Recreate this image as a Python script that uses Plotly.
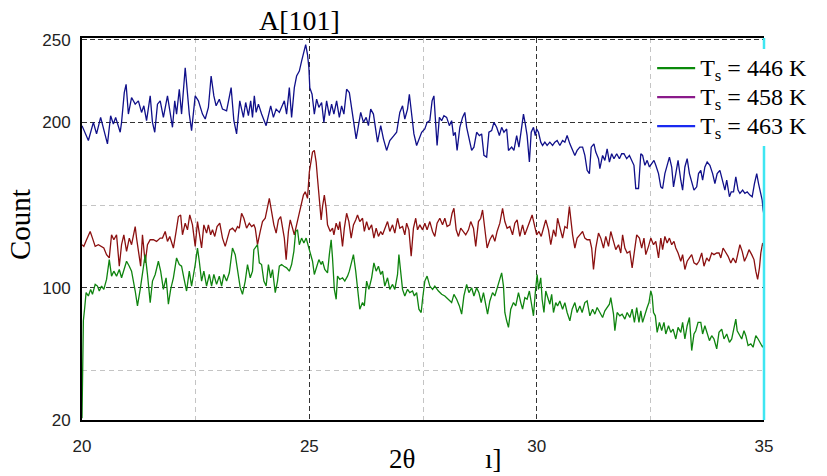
import plotly.graph_objects as go

# ---------------- data (2theta in degrees, counts) ----------------
x_463 = [
    20.00, 20.14, 20.25, 20.32, 20.41, 20.48, 20.56, 20.63, 20.69, 20.74,
    20.84, 20.87, 20.93, 20.97, 21.02, 21.09, 21.17, 21.24, 21.31, 21.36,
    21.42, 21.50, 21.55, 21.60, 21.66, 21.72, 21.79, 21.88, 21.93, 21.99,
    22.04, 22.08, 22.14, 22.19, 22.27, 22.30, 22.36, 22.41, 22.49, 22.56,
    22.65, 22.71, 22.78, 22.84, 22.90, 22.95, 23.02, 23.09, 23.18, 23.28,
    23.34, 23.40, 23.47, 23.55, 23.60, 23.66, 23.71, 23.75, 23.79, 23.83,
    23.88, 23.95, 24.05, 24.10, 24.15, 24.21, 24.27, 24.34, 24.39, 24.45,
    24.50, 24.56, 24.61, 24.67, 24.72, 24.78, 24.83, 24.88, 24.92, 24.96,
    24.99, 25.01, 25.06, 25.11, 25.16, 25.21, 25.27, 25.32, 25.38, 25.44,
    25.49, 25.54, 25.60, 25.66, 25.71, 25.76, 25.82, 25.88, 25.93, 25.98,
    26.03, 26.08, 26.13, 26.19, 26.25, 26.30, 26.35, 26.41, 26.47, 26.50,
    26.57, 26.63, 26.70, 26.77, 26.86, 26.92, 26.99, 27.05, 27.10, 27.16,
    27.20, 27.25, 27.30, 27.36, 27.42, 27.47, 27.54, 27.59, 27.65, 27.70,
    27.74, 27.78, 27.81, 27.86, 27.91, 27.96, 28.02, 28.08, 28.13, 28.17,
    28.21, 28.25, 28.31, 28.37, 28.42, 28.46, 28.52, 28.57, 28.62, 28.68,
    28.74, 28.79, 28.84, 28.90, 28.95, 29.01, 29.06, 29.12, 29.18, 29.23,
    29.28, 29.34, 29.38, 29.45, 29.50, 29.56, 29.61, 29.66, 29.71, 29.75,
    29.79, 29.84, 29.88, 29.93, 29.97, 30.00, 30.04, 30.09, 30.13, 30.18,
    30.23, 30.29, 30.35, 30.40, 30.45, 30.51, 30.57, 30.62, 30.67, 30.73,
    30.79, 30.84, 30.89, 30.95, 31.01, 31.06, 31.11, 31.16, 31.20, 31.26,
    31.30, 31.36, 31.39, 31.45, 31.50, 31.55, 31.60, 31.65, 31.70, 31.76,
    31.82, 31.87, 31.92, 31.98, 32.04, 32.09, 32.14, 32.18, 32.24, 32.29,
    32.33, 32.38, 32.43, 32.48, 32.53, 32.58, 32.62, 32.68, 32.73, 32.77,
    32.82, 32.87, 32.92, 32.97, 33.01, 33.06, 33.11, 33.17, 33.21, 33.26,
    33.31, 33.36, 33.41, 33.46, 33.52, 33.56, 33.61, 33.65, 33.70, 33.75,
    33.81, 33.87, 33.92, 33.97, 34.03, 34.09, 34.14, 34.18, 34.24, 34.28,
    34.33, 34.38, 34.43, 34.47, 34.53, 34.58, 34.63, 34.69, 34.74, 34.79,
    34.84, 34.88, 34.93, 34.96, 34.98, 35.00,
]
y_463 = [
    198, 189, 200, 193, 203, 196, 187, 204, 199, 203,
    194, 200, 218, 223, 205, 215, 211, 213, 206, 210,
    201, 216, 200, 194, 211, 213, 203, 216, 207, 197,
    213, 205, 220, 205, 233, 223, 205, 195, 216, 213,
    205, 202, 209, 228, 216, 210, 214, 208, 207, 221,
    201, 193, 213, 203, 212, 204, 213, 203, 216, 206,
    211, 205, 198, 204, 210, 203, 208, 206, 209, 213,
    205, 221, 203, 221, 228, 231, 237, 243, 247, 241,
    233, 221, 217, 205, 214, 209, 212, 200, 213, 204,
    211, 205, 213, 203, 210, 205, 220, 218, 209, 198,
    190, 198, 206, 200, 203, 198, 208, 205, 195, 188,
    198, 190, 183, 189, 192, 194, 206, 210, 202, 208,
    217, 205, 193, 186, 191, 194, 196, 200, 201, 213,
    216, 200, 186, 203, 201, 204, 203, 198, 201, 192,
    194, 183, 197, 203, 206, 197, 188, 183, 185, 194,
    192, 193, 180, 179, 194, 195, 200, 197, 192, 197,
    194, 196, 183, 185, 183, 192, 185, 195, 205, 199,
    192, 176, 194, 197, 192, 196, 194, 188, 186, 188,
    186, 188, 186, 188, 189, 186, 189, 188, 192, 187,
    183, 180, 183, 185, 185, 180, 171, 169, 185, 187,
    182, 178, 172, 180, 177, 184, 176, 181, 178, 181,
    178, 181, 181, 178, 180, 177, 174, 160, 160, 181,
    180, 174, 177, 173, 175, 177, 174, 169, 161, 160,
    169, 175, 179, 173, 161, 169, 177, 165, 159, 173,
    178, 169, 163, 159, 161, 169, 171, 165, 173, 176,
    174, 169, 163, 169, 171, 165, 159, 165, 155, 158,
    158, 167, 159, 157, 159, 157, 158, 156, 155, 163,
    169, 163, 157, 153, 147, 144,
]

x_458 = [
    20.00, 20.04, 20.10, 20.18, 20.23, 20.29, 20.36, 20.43, 20.48, 20.54,
    20.60, 20.65, 20.70, 20.76, 20.82, 20.87, 20.92, 20.98, 21.04, 21.09,
    21.17, 21.20, 21.24, 21.29, 21.33, 21.39, 21.44, 21.50, 21.57, 21.64,
    21.72, 21.77, 21.83, 21.88, 21.93, 22.01, 22.07, 22.12, 22.17, 22.21,
    22.27, 22.32, 22.37, 22.43, 22.49, 22.54, 22.58, 22.63, 22.68, 22.74,
    22.78, 22.83, 22.87, 22.92, 22.97, 23.03, 23.09, 23.15, 23.20, 23.25,
    23.31, 23.37, 23.42, 23.46, 23.51, 23.56, 23.62, 23.68, 23.73, 23.78,
    23.81, 23.86, 23.92, 23.97, 24.03, 24.08, 24.12, 24.17, 24.22, 24.27,
    24.32, 24.37, 24.41, 24.45, 24.49, 24.54, 24.58, 24.63, 24.67, 24.72,
    24.77, 24.82, 24.87, 24.91, 24.96, 25.00, 25.04, 25.07, 25.11, 25.15,
    25.18, 25.22, 25.26, 25.29, 25.33, 25.37, 25.40, 25.46, 25.51, 25.54,
    25.59, 25.64, 25.67, 25.73, 25.77, 25.82, 25.87, 25.92, 25.97, 26.02,
    26.06, 26.11, 26.17, 26.21, 26.26, 26.31, 26.37, 26.42, 26.47, 26.52,
    26.57, 26.61, 26.66, 26.72, 26.77, 26.83, 26.88, 26.94, 26.99, 27.05,
    27.10, 27.14, 27.19, 27.24, 27.29, 27.34, 27.38, 27.43, 27.49, 27.54,
    27.59, 27.65, 27.71, 27.76, 27.81, 27.87, 27.93, 27.98, 28.03, 28.09,
    28.14, 28.18, 28.23, 28.28, 28.33, 28.39, 28.44, 28.50, 28.55, 28.61,
    28.66, 28.72, 28.77, 28.81, 28.86, 28.91, 28.97, 29.03, 29.08, 29.13,
    29.19, 29.25, 29.30, 29.35, 29.41, 29.47, 29.52, 29.57, 29.63, 29.69,
    29.74, 29.79, 29.85, 29.90, 29.95, 30.00, 30.05, 30.10, 30.16, 30.20,
    30.26, 30.31, 30.37, 30.42, 30.46, 30.51, 30.57, 30.62, 30.67, 30.72,
    30.75, 30.79, 30.84, 30.89, 30.95, 31.01, 31.06, 31.11, 31.17, 31.21,
    31.25, 31.30, 31.36, 31.41, 31.47, 31.52, 31.58, 31.63, 31.69, 31.74,
    31.80, 31.85, 31.89, 31.94, 31.99, 32.05, 32.10, 32.14, 32.20, 32.26,
    32.31, 32.36, 32.40, 32.46, 32.51, 32.57, 32.62, 32.68, 32.73, 32.77,
    32.82, 32.87, 32.92, 32.97, 33.02, 33.06, 33.11, 33.17, 33.21, 33.26,
    33.31, 33.36, 33.41, 33.46, 33.52, 33.57, 33.63, 33.68, 33.74, 33.79,
    33.85, 33.90, 33.96, 34.01, 34.05, 34.10, 34.16, 34.21, 34.27, 34.32,
    34.38, 34.42, 34.47, 34.52, 34.57, 34.62, 34.67, 34.73, 34.78, 34.82,
    34.86, 34.90, 34.93, 34.97, 35.00,
]
y_458 = [
    126, 125, 129, 134, 130, 125, 126, 125, 124, 120,
    118, 132, 129, 132, 113, 126, 132, 122, 130, 126,
    137, 130, 122, 113, 132, 115, 126, 129, 129, 128,
    130, 130, 134, 128, 131, 124, 134, 143, 144, 132,
    139, 135, 144, 138, 125, 140, 133, 124, 138, 133,
    138, 132, 135, 131, 137, 139, 130, 125, 130, 135,
    136, 134, 137, 136, 145, 142, 136, 139, 137, 138,
    136, 126, 134, 140, 142, 148, 154, 146, 138, 133,
    141, 143, 135, 130, 117, 134, 141, 136, 132, 138,
    144, 150, 156, 158, 154, 170, 178, 182, 183, 176,
    166, 155, 141, 149, 156, 148, 138, 134, 136, 132,
    139, 135, 140, 125, 136, 145, 140, 130, 138, 141,
    144, 140, 142, 134, 140, 135, 138, 130, 136, 131,
    134, 132, 136, 140, 134, 138, 133, 142, 136, 137,
    132, 139, 135, 119, 136, 142, 135, 138, 135, 139,
    135, 140, 134, 131, 139, 142, 138, 142, 137, 138,
    145, 148, 135, 131, 136, 134, 132, 135, 140, 136,
    125, 140, 142, 147, 137, 124, 129, 132, 128, 134,
    139, 148, 140, 136, 137, 132, 139, 141, 131, 138,
    132, 136, 140, 144, 138, 132, 134, 131, 137, 141,
    135, 126, 135, 131, 142, 136, 130, 137, 136, 149,
    140, 132, 124, 130, 132, 134, 130, 129, 129, 124,
    111, 124, 133, 130, 124, 131, 125, 134, 128, 123,
    126, 121, 132, 124, 121, 122, 112, 119, 132, 130,
    124, 130, 120, 125, 130, 126, 128, 118, 130, 123,
    131, 127, 130, 126, 128, 124, 121, 116, 120, 111,
    116, 118, 120, 115, 114, 116, 121, 113, 118, 116,
    121, 120, 121, 121, 118, 124, 121, 119, 115, 118,
    115, 120, 126, 122, 116, 119, 123, 120, 117, 110,
    105, 112, 121, 127, 125,
]

x_446 = [
    20.00, 20.01, 20.03, 20.06, 20.09, 20.14, 20.19, 20.23, 20.29, 20.34,
    20.38, 20.43, 20.48, 20.54, 20.60, 20.65, 20.70, 20.76, 20.82, 20.87,
    20.92, 20.98, 21.04, 21.09, 21.17, 21.22, 21.28, 21.33, 21.39, 21.44,
    21.50, 21.55, 21.61, 21.68, 21.73, 21.79, 21.85, 21.90, 21.95, 22.01,
    22.08, 22.14, 22.19, 22.24, 22.30, 22.36, 22.41, 22.49, 22.54, 22.58,
    22.63, 22.68, 22.74, 22.80, 22.85, 22.90, 22.96, 23.02, 23.07, 23.12,
    23.18, 23.24, 23.31, 23.37, 23.42, 23.48, 23.53, 23.59, 23.64, 23.70,
    23.75, 23.78, 23.86, 23.90, 23.95, 24.00, 24.05, 24.10, 24.15, 24.19,
    24.25, 24.30, 24.34, 24.39, 24.44, 24.50, 24.56, 24.61, 24.66, 24.70,
    24.74, 24.78, 24.83, 24.88, 24.93, 24.97, 25.02, 25.07, 25.11, 25.16,
    25.21, 25.26, 25.29, 25.34, 25.40, 25.44, 25.48, 25.51, 25.55, 25.59,
    25.62, 25.67, 25.73, 25.78, 25.84, 25.88, 25.93, 25.97, 26.02, 26.06,
    26.11, 26.17, 26.21, 26.26, 26.31, 26.37, 26.42, 26.47, 26.52, 26.57,
    26.61, 26.66, 26.72, 26.77, 26.83, 26.88, 26.94, 26.97, 27.01, 27.05,
    27.10, 27.16, 27.21, 27.27, 27.31, 27.36, 27.41, 27.46, 27.49, 27.54,
    27.59, 27.65, 27.71, 27.76, 27.84, 27.91, 27.98, 28.06, 28.13, 28.18,
    28.24, 28.30, 28.35, 28.40, 28.46, 28.51, 28.57, 28.62, 28.68, 28.73,
    28.78, 28.83, 28.88, 28.92, 28.97, 29.03, 29.08, 29.13, 29.18, 29.23,
    29.27, 29.30, 29.34, 29.38, 29.43, 29.49, 29.54, 29.60, 29.65, 29.69,
    29.74, 29.79, 29.84, 29.89, 29.93, 29.97, 30.01, 30.04, 30.09, 30.12,
    30.16, 30.20, 30.26, 30.29, 30.33, 30.37, 30.42, 30.46, 30.51, 30.57,
    30.62, 30.67, 30.73, 30.78, 30.84, 30.89, 30.95, 31.00, 31.06, 31.11,
    31.17, 31.23, 31.28, 31.33, 31.39, 31.45, 31.50, 31.55, 31.60, 31.63,
    31.69, 31.72, 31.77, 31.83, 31.88, 31.94, 31.99, 32.05, 32.10, 32.15,
    32.20, 32.25, 32.29, 32.33, 32.38, 32.43, 32.47, 32.51, 32.54, 32.57,
    32.61, 32.65, 32.70, 32.75, 32.80, 32.84, 32.90, 32.95, 33.00, 33.06,
    33.11, 33.17, 33.21, 33.26, 33.31, 33.36, 33.41, 33.46, 33.50, 33.55,
    33.61, 33.65, 33.70, 33.75, 33.80, 33.85, 33.90, 33.96, 34.01, 34.07,
    34.12, 34.18, 34.24, 34.29, 34.34, 34.38, 34.41, 34.46, 34.51, 34.56,
    34.60, 34.65, 34.71, 34.76, 34.82, 34.87, 34.93, 34.97, 35.00,
]
y_446 = [
    21, 50, 80, 88, 97, 95, 99, 96, 102, 101,
    98, 101, 99, 105, 117, 107, 110, 107, 111, 106,
    110, 116, 113, 110, 98, 89, 99, 110, 120, 108,
    91, 104, 108, 116, 110, 99, 106, 90, 99, 106,
    118, 114, 113, 106, 98, 110, 101, 114, 124, 116,
    104, 110, 101, 108, 101, 108, 102, 107, 101, 108,
    104, 109, 124, 120, 110, 100, 96, 104, 114, 106,
    110, 123, 126, 115, 114, 104, 101, 114, 106, 111,
    97, 104, 113, 114, 113, 112, 110, 114, 122, 134,
    135, 126, 130, 127, 130, 126, 121, 116, 108, 113,
    117, 114, 116, 111, 109, 120, 129, 118, 99, 93,
    107, 105, 106, 104, 107, 110, 116, 120, 110, 98,
    87, 91, 89, 104, 99, 106, 115, 110, 113, 108,
    110, 101, 106, 99, 102, 99, 108, 120, 108, 99,
    95, 99, 97, 98, 95, 97, 87, 85, 93, 104,
    107, 101, 99, 101, 98, 96, 95, 93, 91, 96,
    93, 89, 84, 95, 102, 97, 100, 95, 100, 97,
    91, 97, 89, 84, 92, 97, 95, 100, 105, 109,
    101, 85, 80, 76, 87, 91, 89, 97, 91, 87,
    94, 93, 98, 89, 83, 97, 108, 99, 106, 93,
    85, 98, 93, 90, 96, 85, 91, 89, 92, 87,
    91, 85, 80, 87, 91, 85, 89, 85, 91, 92,
    83, 87, 84, 88, 85, 82, 86, 88, 90, 94,
    84, 74, 85, 83, 84, 81, 85, 82, 87, 79,
    88, 79, 86, 79, 84, 88, 91, 98, 95, 85,
    83, 73, 79, 74, 79, 72, 77, 73, 75, 69,
    76, 73, 79, 69, 77, 82, 62, 72, 74, 79,
    79, 72, 77, 73, 68, 71, 69, 63, 73, 75,
    69, 72, 67, 69, 77, 81, 74, 71, 69, 74,
    71, 65, 66, 64, 71, 69, 66, 64, 66,
]

legend_labels = ["T<sub>s</sub> = 446 K", "T<sub>s</sub> = 458 K", "T<sub>s</sub> = 463 K"]
legend_colors = ["#0a8a0a", "#8a1a8a", "#1a2af0"]
trace_colors = {"446": "#0f840f", "458": "#8b1010", "463": "#10108a"}

x_ticks = [20, 25, 30, 35]
x_minor = [22.5, 27.5, 32.5]
y_ticks = [20, 100, 200, 250]
y_minor = [50, 150]

SERIF = "Liberation Serif, Times New Roman, serif"
SANS = "Liberation Sans, Arial, sans-serif"

fig = go.Figure()
fig.add_trace(go.Scatter(x=x_463, y=y_463, mode="lines", showlegend=False,
                         line=dict(color=trace_colors["463"], width=1.3)))
fig.add_trace(go.Scatter(x=x_458, y=y_458, mode="lines", showlegend=False,
                         line=dict(color=trace_colors["458"], width=1.3)))
fig.add_trace(go.Scatter(x=x_446, y=y_446, mode="lines", showlegend=False,
                         line=dict(color=trace_colors["446"], width=1.3)))
for lab, col in zip(legend_labels, legend_colors):
    fig.add_trace(go.Scatter(x=[None], y=[None], mode="lines",
                             name='<span style="font-size:24px">' + lab + '</span>',
                             line=dict(color=col, width=2.2)))

fig.update_layout(
    width=827, height=476,
    margin=dict(l=82, r=63, t=38, b=56),
    paper_bgcolor="white", plot_bgcolor="white",
    showlegend=True, hovermode=False,
    legend=dict(x=0.836, y=0.972, xanchor="left", yanchor="top",
                bgcolor="white", borderwidth=0, itemwidth=38,
                font=dict(family=SERIF, size=20, color="black")),
    xaxis=dict(range=[20, 35], tickmode="array", tickvals=x_ticks,
               ticktext=[str(v) for v in x_ticks],
               showgrid=True, gridcolor="#333333", griddash="5px,3px", gridwidth=1.4,
               minor=dict(tickvals=x_minor, showgrid=True, gridcolor="#c4c4c4",
                          griddash="5px,4px", gridwidth=1.2),
               showline=True, linecolor="black", linewidth=2, mirror=True,
               zeroline=False, ticks="", ticklabelstandoff=10,
               tickfont=dict(family=SANS, size=17, color="#222")),
    yaxis=dict(range=[20, 251], tickmode="array", tickvals=y_ticks,
               ticktext=[str(v) for v in y_ticks],
               showgrid=True, gridcolor="#333333", griddash="5px,3px", gridwidth=1.4,
               minor=dict(tickvals=y_minor, showgrid=True, gridcolor="#c4c4c4",
                          griddash="5px,4px", gridwidth=1.2),
               showline=True, linecolor="black", linewidth=2,
               zeroline=False, ticks="", ticklabelstandoff=6,
               tickfont=dict(family=SANS, size=17, color="#222")),
)

# right frame edge (cyan)
fig.add_shape(type="line", xref="paper", yref="paper", x0=1, x1=1, y0=0, y1=1,
              line=dict(color="#3ee6f2", width=2.5), layer="above")

fig.add_annotation(text="A[101]", xref="x", yref="paper", x=24.79, y=1.045,
                   showarrow=False, xanchor="center", yanchor="middle",
                   font=dict(family=SERIF, size=28, color="black"))
fig.add_annotation(text="Count", xref="paper", yref="paper", x=-0.091, y=0.513,
                   textangle=-90, showarrow=False, xanchor="center", yanchor="middle",
                   font=dict(family=SERIF, size=29, color="black"))
fig.add_annotation(text="2θ", xref="paper", yref="paper", x=0.469, y=-0.1466,
                   showarrow=False, xanchor="center", yanchor="bottom",
                   font=dict(family=SERIF, size=27, color="black"))
fig.add_annotation(text="ı]", xref="paper", yref="paper", x=0.604, y=-0.1466,
                   showarrow=False, xanchor="center", yanchor="bottom",
                   font=dict(family=SERIF, size=27, color="black"))

fig.write_html("out.html", config={"displayModeBar": False},
               post_script="document.body.style.margin='0px';")
